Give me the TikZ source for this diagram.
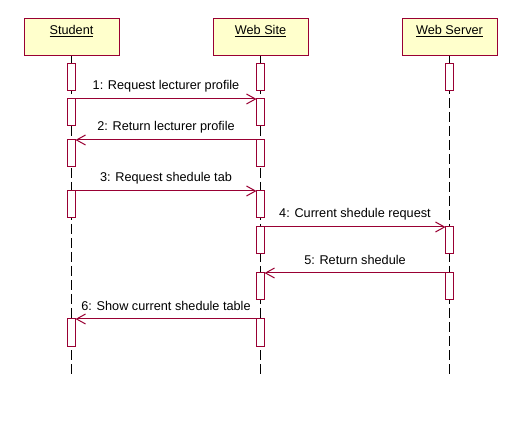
\documentclass[tikz,border=0pt]{standalone}
\usepackage{fontspec}
\setmainfont{Liberation Sans}
\usetikzlibrary{arrows.meta}
\definecolor{umlred}{RGB}{153,0,51}
\definecolor{umlfill}{RGB}{255,255,204}
\begin{document}
\begin{tikzpicture}[x=1pt,y=-1pt,
  every node/.style={font=\fontsize{12.7}{15}\selectfont},
  head/.style={draw=umlred, fill=umlfill, line width=1pt, minimum width=95pt,
    inner ysep=0pt, text height=15.5pt, text depth=21.5pt, outer sep=0pt},
  act/.style={draw=umlred, fill=white, line width=1pt, minimum width=8pt,
    minimum height=27pt, inner sep=0pt, outer sep=0pt},
  life/.style={black, line width=1pt, dash pattern=on 10pt off 4pt},
  msg/.style={umlred, line width=1pt, -{Straight Barb[length=9pt,width=10pt,line width=1pt]}},
  lbl/.style={black, midway, yshift=13pt, inner sep=0pt}]
\useasboundingbox (0,0) rectangle (522,430);
% headers
\node[head] (hs) at (71.5,37.5) {\underline{Student}};
\node[head] (hw) at (260.5,37.5) {\underline{Web Site}};
\node[head] (hv) at (449.5,37.5) {\underline{Web Server}};
% lifeline ends
\coordinate (es) at (71.5,376);
\coordinate (ew) at (260.5,376);
\coordinate (ev) at (449.5,376);
\draw[life] (hs.south) -- (es);
\draw[life] (hw.south) -- (ew);
\draw[life] (hv.south) -- (ev);
% activations: Student
\node[act, anchor=north] (s1) at (71.5,64) {};
\node[act, anchor=north] (s2) at (71.5,99) {};
\node[act, anchor=north] (s3) at (71.5,140) {};
\node[act, anchor=north] (s4) at (71.5,191) {};
\node[act, anchor=north] (s5) at (71.5,319) {};
% Web Site
\node[act, anchor=north] (w1) at (260.5,64) {};
\node[act, anchor=north] (w2) at (260.5,99) {};
\node[act, anchor=north] (w3) at (260.5,140) {};
\node[act, anchor=north] (w4) at (260.5,191) {};
\node[act, anchor=north] (w5) at (260.5,227) {};
\node[act, anchor=north] (w6) at (260.5,273) {};
\node[act, anchor=north] (w7) at (260.5,319) {};
% Web Server
\node[act, anchor=north] (v1) at (449.5,64) {};
\node[act, anchor=north] (v2) at (449.5,227) {};
\node[act, anchor=north] (v3) at (449.5,273) {};
% messages
\draw[msg] (s2.north east) -- node[lbl] {1: Request lecturer profile} (w2.north west);
\draw[msg] (w3.north west) -- node[lbl] {2: Return lecturer profile} (s3.north east);
\draw[msg] (s4.north east) -- node[lbl] {3: Request shedule tab} (w4.north west);
\draw[msg] (w5.north east) -- node[lbl] {4: Current shedule request} (v2.north west);
\draw[msg] (v3.north west) -- node[lbl] {5: Return shedule} (w6.north east);
\draw[msg] (w7.north west) -- node[lbl] {6: Show current shedule table} (s5.north east);
\end{tikzpicture}
\end{document}
